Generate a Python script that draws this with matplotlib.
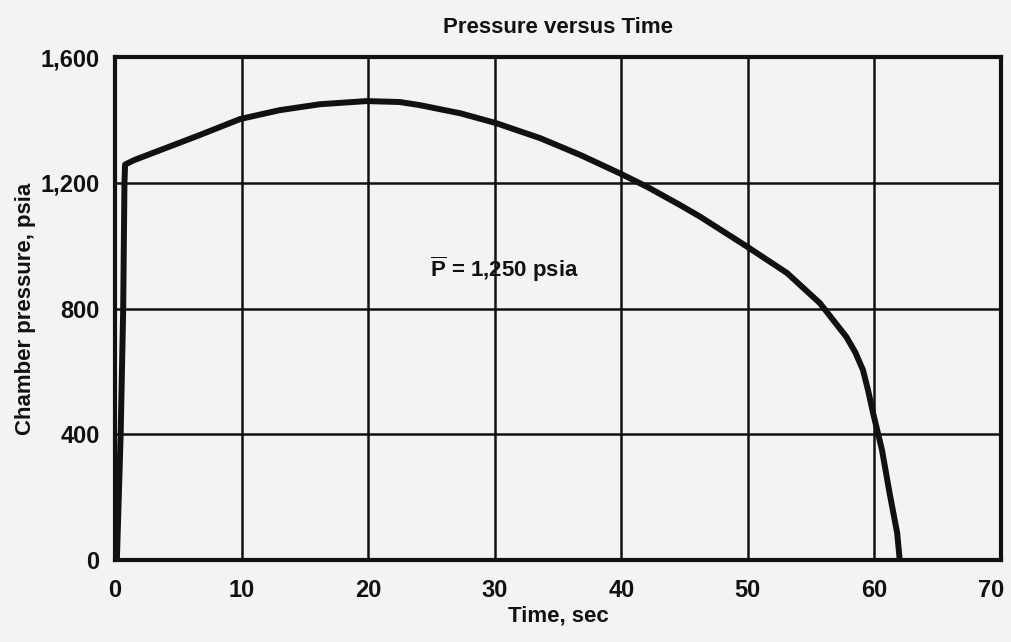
"""Pressure versus time trace, redrawn from a scanned report figure."""
import matplotlib

matplotlib.use("Agg")
import matplotlib.pyplot as plt
from matplotlib.transforms import ScaledTranslation

# time (sec) and chamber pressure (psia)
time_s = [0.15, 0.45, 0.65, 0.75, 0.8, 1.5, 4.1, 6.7, 9.9, 13.0, 16.2, 19.9,
          22.5, 24.1, 27.3, 30.1, 33.6, 36.8, 40.0, 42.1, 44.7, 46.2, 49.9,
          53.1, 55.7, 57.8, 58.5, 59.1, 59.5, 59.9, 60.6, 61.2, 61.8, 62.0]
pressure = [0, 400, 800, 1200, 1258, 1272, 1312, 1352, 1403, 1431, 1450, 1460,
            1457, 1447, 1421, 1390, 1342, 1288, 1228, 1186, 1128, 1093, 998,
            913, 817, 709, 660, 604, 540, 467, 350, 213, 86, 0]

x_ticks = [0, 10, 20, 30, 40, 50, 60, 70]
y_ticks = [0, 400, 800, 1200, 1600]
y_labels = ["0", "400", "800", "1,200", "1,600"]
mean_label = r"$\overline{\mathrm{P}}$ = 1,250 psia"

INK = "#111111"
PAPER = "#f3f3f1"
FONT = ["Liberation Sans", "DejaVu Sans"]

plt.rcParams["font.family"] = FONT
plt.rcParams["font.weight"] = "bold"
plt.rcParams["mathtext.fontset"] = "custom"
plt.rcParams["mathtext.rm"] = "Liberation Sans:bold"
plt.rcParams["mathtext.bf"] = "Liberation Sans:bold"
plt.rcParams["mathtext.it"] = "Liberation Sans:bold"

fig = plt.figure(figsize=(10.12, 6.42), dpi=100, facecolor=PAPER)
ax = fig.add_axes([0.1136, 0.1277, 0.8755, 0.7834], facecolor=PAPER)

ax.plot(time_s, pressure, color=INK, linewidth=4.3, solid_capstyle="butt",
        solid_joinstyle="round", zorder=3)

ax.set_xlim(0, 70)
ax.set_ylim(0, 1600)
ax.set_xticks(x_ticks)
ax.set_yticks(y_ticks, y_labels)
ax.grid(True, color=INK, linewidth=1.8)
ax.tick_params(length=0, labelsize=17, colors=INK)
ax.tick_params(axis="x", pad=14)
ax.tick_params(axis="y", pad=11)
for lab in ax.get_xticklabels() + ax.get_yticklabels():
    lab.set_fontweight("bold")
# the last x label sits just inside the page edge, as on the scan
last = ax.get_xticklabels()[-1]
last.set_transform(last.get_transform()
                   + ScaledTranslation(-10 / 100, 0, fig.dpi_scale_trans))
for s in ax.spines.values():
    s.set_linewidth(3.0)
    s.set_color(INK)

ax.set_xlabel("Time, sec", fontsize=16, fontweight="bold", color=INK, labelpad=2)
ax.set_ylabel("Chamber pressure, psia", fontsize=16, fontweight="bold",
              color=INK, labelpad=3)
ax.set_title("Pressure versus Time", fontsize=16, fontweight="bold",
             color=INK, pad=17)

ax.text(24.9, 925, mean_label, fontsize=16, fontweight="bold", color=INK,
        va="center", ha="left")

plt.savefig("out.png", dpi=100, facecolor=PAPER)
